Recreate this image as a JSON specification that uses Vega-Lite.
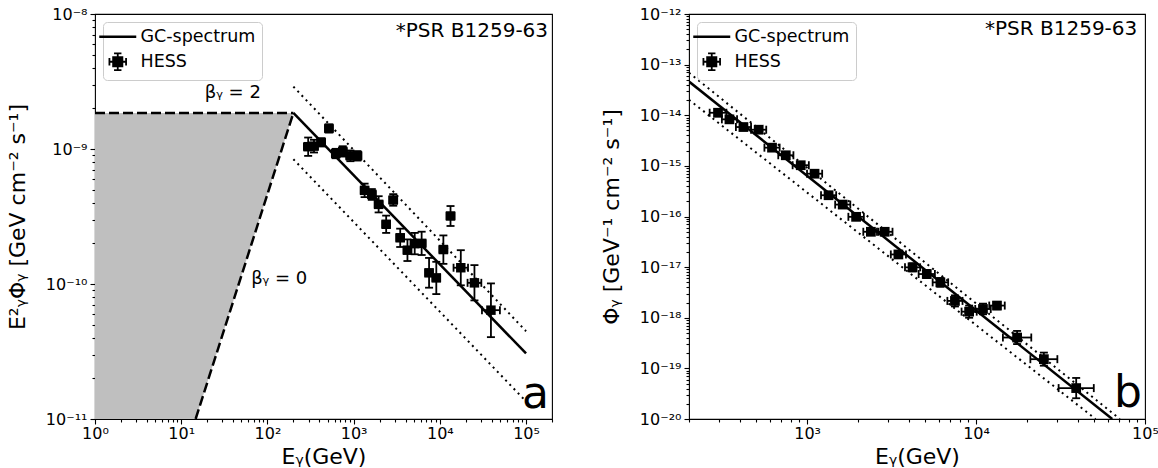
{
 "$schema": "https://vega.github.io/schema/vega-lite/v6.json",
 "background": "white",
 "padding": {"left": 5, "top": 5, "right": 5, "bottom": 2},
 "bounds": "flush",
 "spacing": 137,
 "resolve": {"scale": {"color": "independent"}, "legend": {"color": "independent"}},
 "config": {
  "font": "DejaVu Sans",
  "view": {"stroke": "black", "strokeWidth": 1.1},
  "axis": {"grid": false, "domain": false, "tickColor": "black", "tickWidth": 1.1, "tickSize": 5, "labelColor": "black", "labelFontSize": 16, "labelPadding": 3, "labelFlush": false, "labelOverlap": false, "labelBound": false, "titleColor": "black", "titleFontSize": 22, "titleFontWeight": "normal"},
  "axisX": {"titlePadding": 5, "labelPadding": 1},
  "axisY": {"titlePadding": 16},
  "legend": {"orient": "top-left", "offset": 8, "fillColor": "white", "strokeColor": "#cccccc", "cornerRadius": 4, "padding": 6, "labelFontSize": 17.5, "labelColor": "black", "symbolSize": 1369, "labelOffset": 14, "rowPadding": 3, "symbolStrokeWidth": 2.5, "symbolType": "stroke"}
 },
 "datasets": {
  "hess": [
   {"E":297,"Elo":265,"Ehi":333,"F":1.04e-9,"Flo":8.89e-10,"Fhi":1.216e-9,"p":1.12e-14,"plo":9.58e-15,"phi":1.309e-14},
   {"E":347,"Elo":313,"Ehi":385,"F":1.05e-9,"Flo":9.42e-10,"Fhi":1.17e-9,"p":8.3e-15,"plo":7.45e-15,"phi":9.25e-15},
   {"E":420,"Elo":379,"Ehi":466,"F":1.12e-9,"Flo":1.045e-9,"Fhi":1.201e-9,"p":5.85e-15,"plo":5.46e-15,"phi":6.27e-15},
   {"E":517,"Elo":466,"Ehi":573,"F":1.42e-9,"Flo":1.325e-9,"Fhi":1.522e-9,"p":5.18e-15,"plo":4.83e-15,"phi":5.55e-15},
   {"E":620,"Elo":559,"Ehi":688,"F":9.25e-10,"Flo":8.54e-10,"Fhi":1.003e-9,"p":2.29e-15,"plo":2.11e-15,"phi":2.48e-15},
   {"E":748,"Elo":675,"Ehi":830,"F":9.6e-10,"Flo":8.79e-10,"Fhi":1.048e-9,"p":1.62e-15,"plo":1.48e-15,"phi":1.77e-15},
   {"E":917,"Elo":821,"Ehi":1024,"F":8.9e-10,"Flo":8.12e-10,"Fhi":9.75e-10,"p":1.03e-15,"plo":9.39e-16,"phi":1.129e-15},
   {"E":1107,"Elo":999,"Ehi":1228,"F":8.9e-10,"Flo":8.21e-10,"Fhi":9.65e-10,"p":7.0e-16,"plo":6.46e-16,"phi":7.59e-16},
   {"E":1340,"Elo":1209,"Ehi":1486,"F":4.94e-10,"Flo":4.40e-10,"Fhi":5.54e-10,"p":2.63e-16,"plo":2.34e-16,"phi":2.95e-16},
   {"E":1625,"Elo":1466,"Ehi":1802,"F":4.61e-10,"Flo":4.20e-10,"Fhi":5.05e-10,"p":1.72e-16,"plo":1.57e-16,"phi":1.89e-16},
   {"E":1950,"Elo":1755,"Ehi":2168,"F":3.89e-10,"Flo":3.39e-10,"Fhi":4.47e-10,"p":9.85e-17,"plo":8.58e-17,"phi":1.131e-16},
   {"E":2385,"Elo":2151,"Ehi":2645,"F":2.77e-10,"Flo":2.39e-10,"Fhi":3.21e-10,"p":4.99e-17,"plo":4.31e-17,"phi":5.78e-17},
   {"E":2880,"Elo":2592,"Ehi":3203,"F":4.19e-10,"Flo":3.80e-10,"Fhi":4.63e-10,"p":4.99e-17,"plo":4.52e-17,"phi":5.51e-17},
   {"E":3470,"Elo":3130,"Ehi":3848,"F":2.20e-10,"Flo":1.88e-10,"Fhi":2.57e-10,"p":1.78e-17,"plo":1.52e-17,"phi":2.08e-17},
   {"E":4210,"Elo":3797,"Ehi":4669,"F":1.78e-10,"Flo":1.48e-10,"Fhi":2.14e-10,"p":9.9e-18,"plo":8.24e-18,"phi":1.19e-17},
   {"E":5110,"Elo":4573,"Ehi":5708,"F":1.99e-10,"Flo":1.66e-10,"Fhi":2.39e-10,"p":7.3e-18,"plo":6.07e-18,"phi":8.77e-18},
   {"E":6150,"Elo":5535,"Ehi":6839,"F":2.0e-10,"Flo":1.64e-10,"Fhi":2.44e-10,"p":5.0e-18,"plo":4.09e-18,"phi":6.11e-18},
   {"E":7500,"Elo":6765,"Ehi":8318,"F":1.21e-10,"Flo":9.39e-11,"Fhi":1.56e-10,"p":2.15e-18,"plo":1.67e-18,"phi":2.77e-18},
   {"E":9100,"Elo":8208,"Ehi":10092,"F":1.11e-10,"Flo":8.42e-11,"Fhi":1.46e-10,"p":1.32e-18,"plo":1.0e-18,"phi":1.74e-18},
   {"E":10990,"Elo":9891,"Ehi":12221,"F":1.80e-10,"Flo":1.41e-10,"Fhi":2.29e-10,"p":1.49e-18,"plo":1.17e-18,"phi":1.9e-18},
   {"E":13300,"Elo":11970,"Ehi":14790,"F":3.19e-10,"Flo":2.69e-10,"Fhi":3.78e-10,"p":1.74e-18,"plo":1.47e-18,"phi":2.06e-18},
   {"E":17500,"Elo":14420,"Ehi":21228,"F":1.32e-10,"Flo":9.78e-11,"Fhi":1.78e-10,"p":4.07e-19,"plo":3.02e-19,"phi":5.49e-19},
   {"E":25200,"Elo":20966,"Ehi":30290,"F":1.02e-10,"Flo":7.56e-11,"Fhi":1.38e-10,"p":1.52e-19,"plo":1.13e-19,"phi":2.05e-19},
   {"E":39150,"Elo":30811,"Ehi":49760,"F":6.4e-11,"Flo":4.04e-11,"Fhi":1.01e-10,"p":4.08e-20,"plo":2.57e-20,"phi":6.47e-20}
  ]
 },
 "hconcat": [
  {
   "width": 457, "height": 405,
   "resolve": {"axis": {"x": "independent", "y": "independent"}},
   "layer": [
    {"data": {"values": [{"E":1,"lo":1e-11,"hi":1.85e-9},{"E":14.7,"lo":1e-11,"hi":1.85e-9},{"E":200,"lo":1.85e-9,"hi":1.85e-9}]},
     "mark": {"type": "area", "color": "#bfbfbf", "opacity": 1, "clip": true},
     "encoding": {"x": {"field":"E","type":"quantitative","scale":{"type":"log","domain":[1,200000],"nice":false},"axis":null},
                  "y": {"field":"lo","type":"quantitative","scale":{"type":"log","domain":[1e-11,1e-8],"nice":false},"axis":null},
                  "y2": {"field":"hi"}}},
    {"data": {"values": [{"s":"b2","E":1,"v":1.85e-9},{"s":"b2","E":200,"v":1.85e-9},{"s":"b0","E":14.7,"v":1e-11},{"s":"b0","E":200,"v":1.85e-9}]},
     "mark": {"type": "line", "color": "black", "strokeWidth": 2.5, "strokeDash": [10,4], "clip": true},
     "encoding": {"x": {"field":"E","type":"quantitative","scale":{"type":"log","domain":[1,200000],"nice":false},"axis":null},
                  "y": {"field":"v","type":"quantitative","scale":{"type":"log","domain":[1e-11,1e-8],"nice":false},"axis":null},
                  "detail": {"field":"s"}}},
    {"data": {"values": [{"s":"up","E":200,"v":2.9e-9},{"s":"up","E":100000,"v":4.47e-11},{"s":"low","E":200,"v":8.4e-10},{"s":"low","E":100000,"v":1.35e-11}]},
     "mark": {"type": "line", "color": "black", "strokeWidth": 2, "strokeDash": [2,4], "clip": true},
     "encoding": {"x": {"field":"E","type":"quantitative","scale":{"type":"log","domain":[1,200000],"nice":false},"axis":null},
                  "y": {"field":"v","type":"quantitative","scale":{"type":"log","domain":[1e-11,1e-8],"nice":false},"axis":null},
                  "detail": {"field":"s"}}},
    {"data": {"values": [{"E":200,"v":1.85e-9},{"E":100000,"v":3.06e-11}]},
     "mark": {"type": "line", "strokeWidth": 2.5, "clip": true},
     "encoding": {"x": {"field":"E","type":"quantitative","scale":{"type":"log","domain":[1,200000],"nice":false},
                        "axis":{"orient":"bottom","values":[2,3,4,5,6,7,8,9,20,30,40,50,60,70,80,90,200,300,400,500,600,700,800,900,2000,3000,4000,5000,6000,7000,8000,9000,20000,30000,40000,50000,60000,70000,80000,90000,200000],"labels":false,"tickSize":3,"title":null}},
                  "y": {"field":"v","type":"quantitative","scale":{"type":"log","domain":[1e-11,1e-8],"nice":false},
                        "axis":{"orient":"left","values":[2e-11,3e-11,4e-11,5e-11,6e-11,7e-11,8e-11,9e-11,2e-10,3e-10,4e-10,5e-10,6e-10,7e-10,8e-10,9e-10,2e-9,3e-9,4e-9,5e-9,6e-9,7e-9,8e-9,9e-9],"labels":false,"tickSize":3,"title":null}},
                  "color": {"datum":"GC-spectrum","type":"nominal","scale":{"domain":["GC-spectrum","HESS"],"range":["black","black"]},
                            "legend":{"title":null,"encode":{"symbols":{"update":{"shape":{"signal":"datum.value === 'HESS' ? 'M-0.25,-0.25H0.25V0.25H-0.25Z M-0.45,0H0.45 M0,-0.45V0.45 M-0.45,-0.2V0.2 M0.45,-0.2V0.2 M-0.2,-0.45H0.2 M-0.2,0.45H0.2' : 'stroke'"},"fill":{"value":"black"},"stroke":{"value":"black"},"strokeWidth":{"signal":"datum.value === 'HESS' ? 1.8 : 2.5"}}}}}}}},
    {"data": {"name": "hess"},
     "mark": {"type": "rule", "color": "black", "strokeWidth": 1.8},
     "encoding": {"x": {"field":"E","type":"quantitative","scale":{"type":"log","domain":[1,200000],"nice":false},"axis":null},
                  "y": {"field":"Flo","type":"quantitative","scale":{"type":"log","domain":[1e-11,1e-8],"nice":false},"axis":null},
                  "y2": {"field":"Fhi"}}},
    {"data": {"name": "hess"},
     "mark": {"type": "rule", "color": "black", "strokeWidth": 1.8},
     "encoding": {"x": {"field":"Elo","type":"quantitative","scale":{"type":"log","domain":[1,200000],"nice":false},"axis":null},
                  "x2": {"field":"Ehi"},
                  "y": {"field":"F","type":"quantitative","scale":{"type":"log","domain":[1e-11,1e-8],"nice":false},"axis":null}}},
    {"data": {"name": "hess"},
     "mark": {"type": "tick", "orient": "horizontal", "size": 8, "thickness": 1.8, "color": "black", "opacity": 1},
     "encoding": {"x": {"field":"E","type":"quantitative","scale":{"type":"log","domain":[1,200000],"nice":false},"axis":null},
                  "y": {"field":"Flo","type":"quantitative","scale":{"type":"log","domain":[1e-11,1e-8],"nice":false},"axis":null}}},
    {"data": {"name": "hess"},
     "mark": {"type": "tick", "orient": "horizontal", "size": 8, "thickness": 1.8, "color": "black", "opacity": 1},
     "encoding": {"x": {"field":"E","type":"quantitative","scale":{"type":"log","domain":[1,200000],"nice":false},"axis":null},
                  "y": {"field":"Fhi","type":"quantitative","scale":{"type":"log","domain":[1e-11,1e-8],"nice":false},"axis":null}}},
    {"data": {"name": "hess"},
     "mark": {"type": "tick", "orient": "vertical", "size": 8, "thickness": 1.8, "color": "black", "opacity": 1},
     "encoding": {"x": {"field":"Elo","type":"quantitative","scale":{"type":"log","domain":[1,200000],"nice":false},"axis":null},
                  "y": {"field":"F","type":"quantitative","scale":{"type":"log","domain":[1e-11,1e-8],"nice":false},"axis":null}}},
    {"data": {"name": "hess"},
     "mark": {"type": "tick", "orient": "vertical", "size": 8, "thickness": 1.8, "color": "black", "opacity": 1},
     "encoding": {"x": {"field":"Ehi","type":"quantitative","scale":{"type":"log","domain":[1,200000],"nice":false},"axis":null},
                  "y": {"field":"F","type":"quantitative","scale":{"type":"log","domain":[1e-11,1e-8],"nice":false},"axis":null}}},
    {"data": {"name": "hess"},
     "mark": {"type": "point", "shape": "square", "filled": true, "size": 90, "opacity": 1},
     "encoding": {"x": {"field":"E","type":"quantitative","scale":{"type":"log","domain":[1,200000],"nice":false},
                        "axis":{"orient":"bottom","values":[1,10,100,1000,10000,100000],"labelExpr":"['10⁰','10¹','10²','10³','10⁴','10⁵'][round(log(datum.value)/LN10)]","title":"Eᵧ(GeV)"}},
                  "y": {"field":"F","type":"quantitative","scale":{"type":"log","domain":[1e-11,1e-8],"nice":false},
                        "axis":{"orient":"left","values":[1e-11,1e-10,1e-9,1e-8],"labelExpr":"['10⁻¹¹','10⁻¹⁰','10⁻⁹','10⁻⁸'][round(log(datum.value)/LN10)+11]","title":"E²ᵧΦᵧ [GeV cm⁻² s⁻¹]"}},
                  "color": {"datum":"HESS","type":"nominal"}}},
    {"data": {"values": [{"E":180000,"v":7.5e-9,"t":"*PSR B1259-63"}]},
     "mark": {"type": "text", "align": "right", "baseline": "middle", "fontSize": 20, "color": "black"},
     "encoding": {"x": {"field":"E","type":"quantitative","scale":{"type":"log","domain":[1,200000],"nice":false},"axis":null},
                  "y": {"field":"v","type":"quantitative","scale":{"type":"log","domain":[1e-11,1e-8],"nice":false},"axis":null},
                  "text": {"field":"t"}}},
    {"data": {"values": [{"E":185000,"v":1.2e-11,"t":"a"}]},
     "mark": {"type": "text", "align": "right", "baseline": "alphabetic", "fontSize": 44, "color": "black"},
     "encoding": {"x": {"field":"E","type":"quantitative","scale":{"type":"log","domain":[1,200000],"nice":false},"axis":null},
                  "y": {"field":"v","type":"quantitative","scale":{"type":"log","domain":[1e-11,1e-8],"nice":false},"axis":null},
                  "text": {"field":"t"}}},
    {"data": {"values": [{"E":39.6,"v":2.62e-9,"t":"βᵧ = 2"},{"E":137,"v":1.09e-10,"t":"βᵧ = 0"}]},
     "mark": {"type": "text", "align": "center", "baseline": "middle", "fontSize": 18, "color": "black"},
     "encoding": {"x": {"field":"E","type":"quantitative","scale":{"type":"log","domain":[1,200000],"nice":false},"axis":null},
                  "y": {"field":"v","type":"quantitative","scale":{"type":"log","domain":[1e-11,1e-8],"nice":false},"axis":null},
                  "text": {"field":"t"}}}
   ]
  },
  {
   "width": 456, "height": 405,
   "resolve": {"axis": {"x": "independent", "y": "independent"}},
   "layer": [
    {"data": {"values": [{"s":"up","E":200,"v":6.9e-14},{"s":"up","E":71000,"v":1e-20},{"s":"low","E":200,"v":2.02e-14},{"s":"low","E":51000,"v":1e-20}]},
     "mark": {"type": "line", "color": "black", "strokeWidth": 2, "strokeDash": [2,4], "clip": true},
     "encoding": {"x": {"field":"E","type":"quantitative","scale":{"type":"log","domain":[200,100000],"nice":false},"axis":null},
                  "y": {"field":"v","type":"quantitative","scale":{"type":"log","domain":[1e-20,1e-12],"nice":false},"axis":null},
                  "detail": {"field":"s"}}},
    {"data": {"values": [{"E":200,"v":4.62e-14},{"E":64000,"v":1e-20}]},
     "mark": {"type": "line", "strokeWidth": 2.5, "clip": true},
     "encoding": {"x": {"field":"E","type":"quantitative","scale":{"type":"log","domain":[200,100000],"nice":false},
                        "axis":{"orient":"bottom","values":[200,300,400,500,600,700,800,900,2000,3000,4000,5000,6000,7000,8000,9000,20000,30000,40000,50000,60000,70000,80000,90000],"labels":false,"tickSize":3,"title":null}},
                  "y": {"field":"v","type":"quantitative","scale":{"type":"log","domain":[1e-20,1e-12],"nice":false},
                        "axis":{"orient":"left","values":[2e-20,3e-20,4e-20,5e-20,6e-20,7e-20,8e-20,9e-20,2e-19,3e-19,4e-19,5e-19,6e-19,7e-19,8e-19,9e-19,2e-18,3e-18,4e-18,5e-18,6e-18,7e-18,8e-18,9e-18,2e-17,3e-17,4e-17,5e-17,6e-17,7e-17,8e-17,9e-17,2e-16,3e-16,4e-16,5e-16,6e-16,7e-16,8e-16,9e-16,2e-15,3e-15,4e-15,5e-15,6e-15,7e-15,8e-15,9e-15,2e-14,3e-14,4e-14,5e-14,6e-14,7e-14,8e-14,9e-14,2e-13,3e-13,4e-13,5e-13,6e-13,7e-13,8e-13,9e-13],"labels":false,"tickSize":3,"title":null}},
                  "color": {"datum":"GC-spectrum","type":"nominal","scale":{"domain":["GC-spectrum","HESS"],"range":["black","black"]},
                            "legend":{"title":null,"encode":{"symbols":{"update":{"shape":{"signal":"datum.value === 'HESS' ? 'M-0.25,-0.25H0.25V0.25H-0.25Z M-0.45,0H0.45 M0,-0.45V0.45 M-0.45,-0.2V0.2 M0.45,-0.2V0.2 M-0.2,-0.45H0.2 M-0.2,0.45H0.2' : 'stroke'"},"fill":{"value":"black"},"stroke":{"value":"black"},"strokeWidth":{"signal":"datum.value === 'HESS' ? 1.8 : 2.5"}}}}}}}},
    {"data": {"name": "hess"},
     "mark": {"type": "rule", "color": "black", "strokeWidth": 1.8},
     "encoding": {"x": {"field":"E","type":"quantitative","scale":{"type":"log","domain":[200,100000],"nice":false},"axis":null},
                  "y": {"field":"plo","type":"quantitative","scale":{"type":"log","domain":[1e-20,1e-12],"nice":false},"axis":null},
                  "y2": {"field":"phi"}}},
    {"data": {"name": "hess"},
     "mark": {"type": "rule", "color": "black", "strokeWidth": 1.8},
     "encoding": {"x": {"field":"Elo","type":"quantitative","scale":{"type":"log","domain":[200,100000],"nice":false},"axis":null},
                  "x2": {"field":"Ehi"},
                  "y": {"field":"p","type":"quantitative","scale":{"type":"log","domain":[1e-20,1e-12],"nice":false},"axis":null}}},
    {"data": {"name": "hess"},
     "mark": {"type": "tick", "orient": "horizontal", "size": 8, "thickness": 1.8, "color": "black", "opacity": 1},
     "encoding": {"x": {"field":"E","type":"quantitative","scale":{"type":"log","domain":[200,100000],"nice":false},"axis":null},
                  "y": {"field":"plo","type":"quantitative","scale":{"type":"log","domain":[1e-20,1e-12],"nice":false},"axis":null}}},
    {"data": {"name": "hess"},
     "mark": {"type": "tick", "orient": "horizontal", "size": 8, "thickness": 1.8, "color": "black", "opacity": 1},
     "encoding": {"x": {"field":"E","type":"quantitative","scale":{"type":"log","domain":[200,100000],"nice":false},"axis":null},
                  "y": {"field":"phi","type":"quantitative","scale":{"type":"log","domain":[1e-20,1e-12],"nice":false},"axis":null}}},
    {"data": {"name": "hess"},
     "mark": {"type": "tick", "orient": "vertical", "size": 8, "thickness": 1.8, "color": "black", "opacity": 1},
     "encoding": {"x": {"field":"Elo","type":"quantitative","scale":{"type":"log","domain":[200,100000],"nice":false},"axis":null},
                  "y": {"field":"p","type":"quantitative","scale":{"type":"log","domain":[1e-20,1e-12],"nice":false},"axis":null}}},
    {"data": {"name": "hess"},
     "mark": {"type": "tick", "orient": "vertical", "size": 8, "thickness": 1.8, "color": "black", "opacity": 1},
     "encoding": {"x": {"field":"Ehi","type":"quantitative","scale":{"type":"log","domain":[200,100000],"nice":false},"axis":null},
                  "y": {"field":"p","type":"quantitative","scale":{"type":"log","domain":[1e-20,1e-12],"nice":false},"axis":null}}},
    {"data": {"name": "hess"},
     "mark": {"type": "point", "shape": "square", "filled": true, "size": 95, "opacity": 1},
     "encoding": {"x": {"field":"E","type":"quantitative","scale":{"type":"log","domain":[200,100000],"nice":false},
                        "axis":{"orient":"bottom","values":[1000,10000,100000],"labelExpr":"['10³','10⁴','10⁵'][round(log(datum.value)/LN10)-3]","title":"Eᵧ(GeV)"}},
                  "y": {"field":"p","type":"quantitative","scale":{"type":"log","domain":[1e-20,1e-12],"nice":false},
                        "axis":{"orient":"left","values":[1e-20,1e-19,1e-18,1e-17,1e-16,1e-15,1e-14,1e-13,1e-12],"labelExpr":"['10⁻²⁰','10⁻¹⁹','10⁻¹⁸','10⁻¹⁷','10⁻¹⁶','10⁻¹⁵','10⁻¹⁴','10⁻¹³','10⁻¹²'][round(log(datum.value)/LN10)+20]","title":"Φᵧ [GeV⁻¹ cm⁻² s⁻¹]"}},
                  "color": {"datum":"HESS","type":"nominal"}}},
    {"data": {"values": [{"E":90000,"v":5.0e-13,"t":"*PSR B1259-63"}]},
     "mark": {"type": "text", "align": "right", "baseline": "middle", "fontSize": 20, "color": "black"},
     "encoding": {"x": {"field":"E","type":"quantitative","scale":{"type":"log","domain":[200,100000],"nice":false},"axis":null},
                  "y": {"field":"v","type":"quantitative","scale":{"type":"log","domain":[1e-20,1e-12],"nice":false},"axis":null},
                  "text": {"field":"t"}}},
    {"data": {"values": [{"E":96000,"v":1.7e-20,"t":"b"}]},
     "mark": {"type": "text", "align": "right", "baseline": "alphabetic", "fontSize": 44, "color": "black"},
     "encoding": {"x": {"field":"E","type":"quantitative","scale":{"type":"log","domain":[200,100000],"nice":false},"axis":null},
                  "y": {"field":"v","type":"quantitative","scale":{"type":"log","domain":[1e-20,1e-12],"nice":false},"axis":null},
                  "text": {"field":"t"}}}
   ]
  }
 ]
}
